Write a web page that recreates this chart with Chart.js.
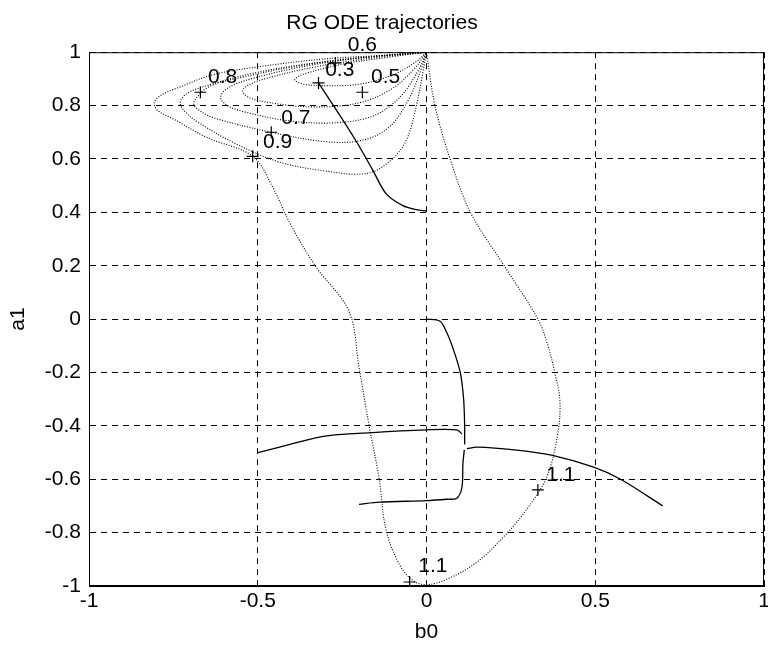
<!DOCTYPE html>
<html>
<head>
<meta charset="utf-8">
<title>RG ODE trajectories</title>
<script src="https://cdn.jsdelivr.net/npm/chart.js@4"></script>
<style>
body { margin: 0; background: #fff; }
#wrap { width: 768px; height: 648px; }
</style>
</head>
<body>
<div id="wrap"><canvas id="chart" width="768" height="648"></canvas></div>
<script>
// axis ticks
const xTicks = [-1, -0.5, 0, 0.5, 1];
const yTicks = [-1, -0.8, -0.6, -0.4, -0.2, 0, 0.2, 0.4, 0.6, 0.8, 1];

// contour lines [b0, a1]
const contour11 = [[0,1],[-0.1,0.99],[-0.3,0.975],[-0.5,0.945],[-0.634,0.915],[-0.73,0.87],[-0.785,0.84],[-0.807,0.81],[-0.795,0.78],[-0.75,0.75],[-0.65,0.68],[-0.515,0.61],[-0.456,0.495],[-0.405,0.36],[-0.33,0.2],[-0.23,0.03],[-0.2,-0.18],[-0.17,-0.4],[-0.14,-0.6],[-0.12,-0.79],[-0.08,-0.92],[-0.04,-0.98],[0,-0.995],[0.06,-0.975],[0.15,-0.91],[0.24,-0.8],[0.31,-0.69],[0.36,-0.58],[0.39,-0.42],[0.395,-0.3],[0.38,-0.2],[0.36,-0.1],[0.33,0],[0.23,0.2],[0.13,0.4],[0.07,0.6],[0.025,0.8],[0,1]];
const contour09 = [[0,1],[-0.1,0.99],[-0.3,0.965],[-0.5,0.925],[-0.65,0.875],[-0.71,0.845],[-0.73,0.81],[-0.71,0.77],[-0.68,0.74],[-0.57,0.66],[-0.44,0.59],[-0.3,0.555],[-0.18,0.545],[-0.11,0.59],[-0.06,0.67],[-0.03,0.8],[-0.01,0.93],[0,1]];
const contour08 = [[0,1],[-0.15,0.985],[-0.35,0.955],[-0.55,0.905],[-0.645,0.87],[-0.69,0.81],[-0.665,0.775],[-0.62,0.75],[-0.46,0.7],[-0.3,0.665],[-0.19,0.67],[-0.11,0.72],[-0.05,0.83],[-0.015,0.94],[0,1]];
const contour07 = [[0,1],[-0.15,0.985],[-0.35,0.95],[-0.52,0.9],[-0.59,0.865],[-0.61,0.83],[-0.59,0.8],[-0.55,0.78],[-0.42,0.745],[-0.28,0.735],[-0.16,0.76],[-0.08,0.83],[-0.025,0.93],[0,1]];
const contour05 = [[0,1],[-0.15,0.98],[-0.33,0.945],[-0.48,0.9],[-0.53,0.875],[-0.545,0.855],[-0.525,0.83],[-0.47,0.812],[-0.34,0.795],[-0.2,0.81],[-0.1,0.865],[-0.035,0.94],[0,1]];
const contour03 = [[0,1],[-0.12,0.98],[-0.25,0.955],[-0.36,0.92],[-0.385,0.905],[-0.39,0.895],[-0.37,0.882],[-0.32,0.875],[-0.2,0.88],[-0.1,0.915],[-0.03,0.965],[0,1]];

// RG trajectories
const traj1 = [[-0.32,0.885],[-0.26,0.77],[-0.21,0.67],[-0.16,0.56],[-0.12,0.47],[-0.07,0.425],[-0.03,0.41],[0,0.405]];
const traj2 = [[0,0],[0.04,-0.008],[0.06,-0.05],[0.08,-0.115],[0.1,-0.2],[0.11,-0.3],[0.113,-0.4],[0.113,-0.47]];
const traj3 = [[-0.2,-0.694],[-0.14,-0.686],[0,-0.68],[0.06,-0.675],[0.09,-0.671],[0.105,-0.63],[0.108,-0.54],[0.112,-0.49]];
const traj4 = [[-0.5,-0.5],[-0.435,-0.48],[-0.31,-0.44],[-0.16,-0.425],[0,-0.415],[0.09,-0.415],[0.105,-0.43]];
const traj5 = [[0.7,-0.7],[0.575,-0.6],[0.495,-0.555],[0.37,-0.51],[0.26,-0.49],[0.15,-0.48],[0.12,-0.485]];

// clabel markers and texts
const markers = [[-0.32,0.885],[-0.19,0.85],[-0.67,0.85],[-0.46,0.7],[-0.515,0.61],[-0.27,0.96],[0.33,-0.64],[-0.05,-0.985]];
const labelText = ['0.6', '0.3', '0.5', '0.8', '0.7', '0.9', '1.1', '1.1'];
const labelX = [-0.19, -0.257, -0.121, -0.604, -0.387, -0.441, 0.398, 0.019];
const labelY = [1.028, 0.934, 0.907, 0.907, 0.754, 0.664, -0.585, -0.926];

const FONT = '"Liberation Sans", Arial, sans-serif';
const toXY = arr => arr.map(p => ({x: p[0], y: p[1]}));
const fmt = v => String(Math.round(v * 10) / 10);

function dotted(pts){
  return {data: toXY(pts), showLine: true, borderColor: '#000', borderWidth: 1.1,
    borderDash: [1, 1.6], pointRadius: 0, tension: 0.35, fill: false};
}
function solid(pts){
  return {data: toXY(pts), showLine: true, borderColor: '#000', borderWidth: 1.3,
    pointRadius: 0, tension: 0.3, fill: false};
}

const overlay = {
  id: 'overlay',
  afterDatasetsDraw(chart){
    const ctx = chart.ctx;
    const a = chart.chartArea;
    const x = chart.scales.x, y = chart.scales.y;
    ctx.save();
    ctx.strokeStyle = '#000';
    ctx.lineWidth = 1;
    ctx.setLineDash([]);
    ctx.strokeRect(a.left + 0.5, a.top + 0.5, a.right - a.left - 1, a.bottom - a.top - 1);
    ctx.fillStyle = '#000';
    ctx.font = '21px ' + FONT;
    ctx.textAlign = 'center';
    ctx.textBaseline = 'middle';
    labelText.forEach((t, i) => {
      ctx.fillText(t, x.getPixelForValue(labelX[i]), y.getPixelForValue(labelY[i]));
    });
    ctx.restore();
  }
};

Chart.defaults.font.family = FONT;
Chart.defaults.color = '#000';

const ctx = document.getElementById('chart').getContext('2d');
const myChart = new Chart(ctx, {
  type: 'scatter',
  data: {
    datasets: [
      dotted(contour11), dotted(contour09), dotted(contour08),
      dotted(contour07), dotted(contour05), dotted(contour03),
      solid(traj1), solid(traj2), solid(traj3), solid(traj4), solid(traj5),
      {data: toXY(markers), showLine: false, pointStyle: 'cross', pointRadius: 6,
        borderColor: '#000', borderWidth: 1.2, backgroundColor: '#000'}
    ]
  },
  options: {
    responsive: false,
    animation: false,
    layout: {autoPadding: false, padding: {left: 0, right: 4, top: 0, bottom: 0}},
    plugins: {
      legend: {display: false},
      tooltip: {enabled: false},
      title: {display: true, text: 'RG ODE trajectories', color: '#000',
        font: {size: 21, weight: 'normal'}, padding: {top: 11, bottom: 16}}
    },
    scales: {
      x: {
        type: 'linear', min: -1, max: 1, position: 'bottom',
        afterBuildTicks: s => { s.ticks = xTicks.map(v => ({value: v})); },
        afterFit: s => { s.height = 62; s.paddingLeft = 0; s.paddingRight = 0; },
        grid: {color: '#000', lineWidth: 1, drawTicks: false},
        border: {display: true, color: '#000', width: 1, dash: [6, 5]},
        ticks: {color: '#000', font: {size: 21}, padding: 3, maxRotation: 0, callback: fmt},
        title: {display: true, text: 'b0', color: '#000', font: {size: 21}, padding: {top: 0, bottom: 3}}
      },
      y: {
        type: 'linear', min: -1, max: 1,
        afterBuildTicks: s => { s.ticks = yTicks.map(v => ({value: v})); },
        afterFit: s => { s.width = 89; },
        grid: {color: '#000', lineWidth: 1, drawTicks: false},
        border: {display: true, color: '#000', width: 1, dash: [6, 5]},
        ticks: {color: '#000', font: {size: 21}, padding: 8, callback: fmt},
        title: {display: true, text: 'a1', color: '#000', font: {size: 21}, padding: {top: 6, bottom: 0}}
      }
    }
  },
  plugins: [overlay]
});
</script>
</body>
</html>
